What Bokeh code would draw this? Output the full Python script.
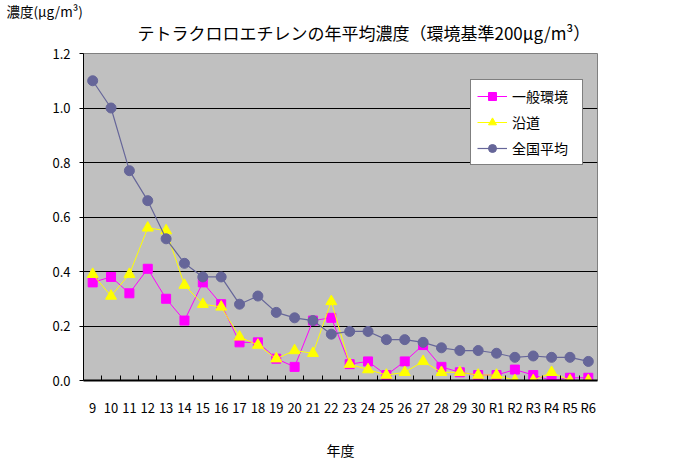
from bokeh.plotting import figure
from bokeh.models import Range1d, FixedTicker, Title, Legend, LegendItem, NumeralTickFormatter
from bokeh.embed import file_html
from bokeh.resources import INLINE

years = ["9", "10", "11", "12", "13", "14", "15", "16", "17", "18", "19", "20",
         "21", "22", "23", "24", "25", "26", "27", "28", "29", "30",
         "R1", "R2", "R3", "R4", "R5", "R6"]
general = [0.36, 0.38, 0.32, 0.41, 0.30, 0.22, 0.36, 0.28, 0.14, 0.14, 0.08, 0.05,
           0.22, 0.23, 0.06, 0.07, 0.02, 0.07, 0.13, 0.05, 0.03, 0.02,
           0.02, 0.04, 0.02, 0.00, 0.01, 0.01]
roadside = [0.39, 0.31, 0.39, 0.56, 0.55, 0.35, 0.28, 0.27, 0.16, 0.13, 0.08, 0.11,
            0.10, 0.29, 0.06, 0.04, 0.02, 0.03, 0.07, 0.03, 0.03, 0.02,
            0.02, 0.00, 0.00, 0.03, 0.00, 0.00]
national = [1.10, 1.00, 0.77, 0.66, 0.52, 0.43, 0.38, 0.38, 0.28, 0.31, 0.25, 0.23,
            0.22, 0.17, 0.18, 0.18, 0.15, 0.15, 0.14, 0.12, 0.11, 0.11,
            0.10, 0.085, 0.09, 0.085, 0.085, 0.07]
y_ticks = [0.0, 0.2, 0.4, 0.6, 0.8, 1.0, 1.2]

FONT = "Noto Sans CJK JP"
x = list(range(len(years)))

p = figure(width=685, height=471, output_backend="svg", toolbar_location=None,
           x_range=Range1d(-0.5, len(years) - 0.5), y_range=Range1d(0, 1.2),
           min_border_left=83, min_border_right=88, min_border_top=53, min_border_bottom=91)
p.background_fill_color = "#C0C0C0"
p.border_fill_color = "white"
p.outline_line_color = "#808080"
p.outline_line_width = 1

# outermost title: y-axis unit label at the top-left
p.title.text = "濃度(μg/m³)"
p.title.align = "left"
p.title.offset = -77
p.title.standoff = -15
p.title.text_font = FONT
p.title.text_font_size = "13.5px"
p.title.text_font_style = "normal"
p.title.text_color = "black"

main_title = Title(text="テトラクロロエチレンの年平均濃度（環境基準200μg/m³）",
                   align="left", offset=54, standoff=13, vertical_align="top",
                   text_font=FONT, text_font_size="17px", text_font_style="normal",
                   text_color="black")
p.add_layout(main_title, "above")

p.xgrid.visible = False
p.ygrid.ticker = FixedTicker(ticks=y_ticks)
p.ygrid.grid_line_color = "black"
p.ygrid.grid_line_width = 1

p.yaxis.ticker = FixedTicker(ticks=y_ticks)
p.yaxis.formatter = NumeralTickFormatter(format="0.0")
p.yaxis.axis_line_color = "black"
p.yaxis.major_tick_in = 0
p.yaxis.major_tick_out = 4
p.yaxis.minor_tick_line_color = None
p.yaxis.major_label_text_font = FONT
p.yaxis.major_label_text_font_size = "13px"
p.yaxis.major_label_text_color = "black"
p.yaxis.major_label_standoff = 9

p.xaxis.ticker = FixedTicker(ticks=x, minor_ticks=[i + 0.5 for i in range(len(years) - 1)])
p.xaxis.major_label_overrides = {i: years[i] for i in x}
p.xaxis.major_tick_line_color = None
p.xaxis.minor_tick_in = 5
p.xaxis.minor_tick_out = 0
p.xaxis.minor_tick_line_color = "black"
p.xaxis.axis_line_color = "black"
p.xaxis.axis_line_width = 2
p.xaxis.major_label_text_font = FONT
p.xaxis.major_label_text_font_size = "13px"
p.xaxis.major_label_text_color = "black"
p.xaxis.major_label_standoff = 11
p.xaxis.axis_label = "年度"
p.xaxis.axis_label_text_font = FONT
p.xaxis.axis_label_text_font_size = "14px"
p.xaxis.axis_label_text_font_style = "normal"
p.xaxis.axis_label_text_color = "black"
p.xaxis.axis_label_standoff = 20

l1 = p.line(x, general, line_color="#FF00FF", line_width=1)
s1 = p.scatter(x, general, marker="square", size=9, fill_color="#FF00FF", line_color="#FF00FF")
l2 = p.line(x, roadside, line_color="#FFFF00", line_width=1)
s2 = p.scatter(x, roadside, marker="triangle", size=11, fill_color="#FFFF00", line_color="#FFFF00")
l3 = p.line(x, national, line_color="#666699", line_width=1.2)
s3 = p.scatter(x, national, marker="circle", size=10, fill_color="#666699", line_color="#666699")

legend = Legend(items=[LegendItem(label="一般環境", renderers=[l1, s1]),
                       LegendItem(label="沿道", renderers=[l2, s2]),
                       LegendItem(label="全国平均", renderers=[l3, s3])],
                location=(387, 215))
legend.background_fill_color = "white"
legend.background_fill_alpha = 1
legend.border_line_color = "black"
legend.border_line_width = 1
legend.label_text_font = FONT
legend.label_text_font_size = "14px"
legend.label_text_color = "black"
legend.glyph_width = 30
legend.glyph_height = 20
legend.label_height = 20
legend.label_width = 64
legend.spacing = 6
legend.padding = 6
legend.margin = 0
legend.label_standoff = 5
p.add_layout(legend)

open("out.html", "w").write(file_html(p, INLINE))
